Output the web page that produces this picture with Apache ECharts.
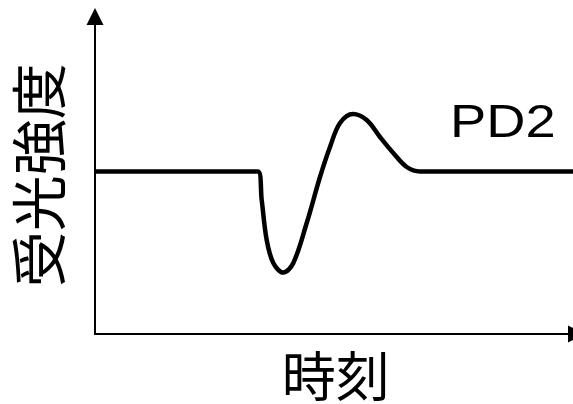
<!DOCTYPE html>
<html>
<head>
<meta charset="utf-8">
<script src="https://cdn.jsdelivr.net/npm/echarts@6/dist/echarts.min.js"></script>
<style>
html,body{margin:0;padding:0;background:#fff;}
#chart{width:573px;height:404px;}
</style>
</head>
<body>
<div id="chart"></div>
<script>
// Data (time and received intensity, arbitrary units)
var timeValues = [0, 163, 166.7, 171.7, 178.3, 188.3, 198.3, 211.7, 225, 235, 245, 258, 271.7, 285, 298.3, 311.7, 325, 481.5];
var intensityValues = [162.5, 162.5, 134, 94, 71, 61.5, 71, 111, 157, 187, 211, 220, 214, 197, 181, 167, 162.5, 162.5];
var xAxisName = '時刻';
var yAxisName = '受光強度';
var seriesName = 'PD2';

var points = timeValues.map(function (t, i) { return [t, intensityValues[i]]; });

var chart = echarts.init(document.getElementById('chart'), null, {renderer: 'canvas'});
chart.setOption({
  animation: false,
  backgroundColor: '#fff',
  grid: {left: 95, right: -3.5, top: 16.5, bottom: 70, containLabel: false, outerBoundsMode: 'none'},
  xAxis: {
    type: 'value', min: 0, max: 481.5,
    name: xAxisName, nameLocation: 'middle', nameGap: 15,
    nameTextStyle: {fontSize: 54, color: '#000', fontFamily: 'Noto Sans CJK JP'},
    axisLine: {show: true, onZero: false, lineStyle: {color: '#000', width: 2}, symbol: ['none', 'triangle'], symbolSize: [17, 17]},
    axisTick: {show: false}, axisLabel: {show: false}, splitLine: {show: false}
  },
  yAxis: {
    type: 'value', min: 0, max: 317.5,
    name: yAxisName, nameLocation: 'middle', nameGap: 28, nameRotate: 90,
    nameTextStyle: {fontSize: 56, color: '#000', fontFamily: 'Noto Sans CJK JP'},
    axisLine: {show: true, lineStyle: {color: '#000', width: 2}, symbol: ['none', 'triangle'], symbolSize: [17, 17]},
    axisTick: {show: false}, axisLabel: {show: false}, splitLine: {show: false}
  },
  series: [{
    name: seriesName, type: 'line', data: points, smooth: 0.35, showSymbol: false,
    lineStyle: {color: '#000', width: 4.5}, clip: false
  }],
  graphic: [{
    type: 'text', x: 450, y: 124, scaleX: 1.18,
    style: {
      text: seriesName, x: 0, y: 0,
      fill: '#000', font: '46px "Liberation Sans", Arial, sans-serif',
      verticalAlign: 'middle'
    }
  }]
});
</script>
</body>
</html>
